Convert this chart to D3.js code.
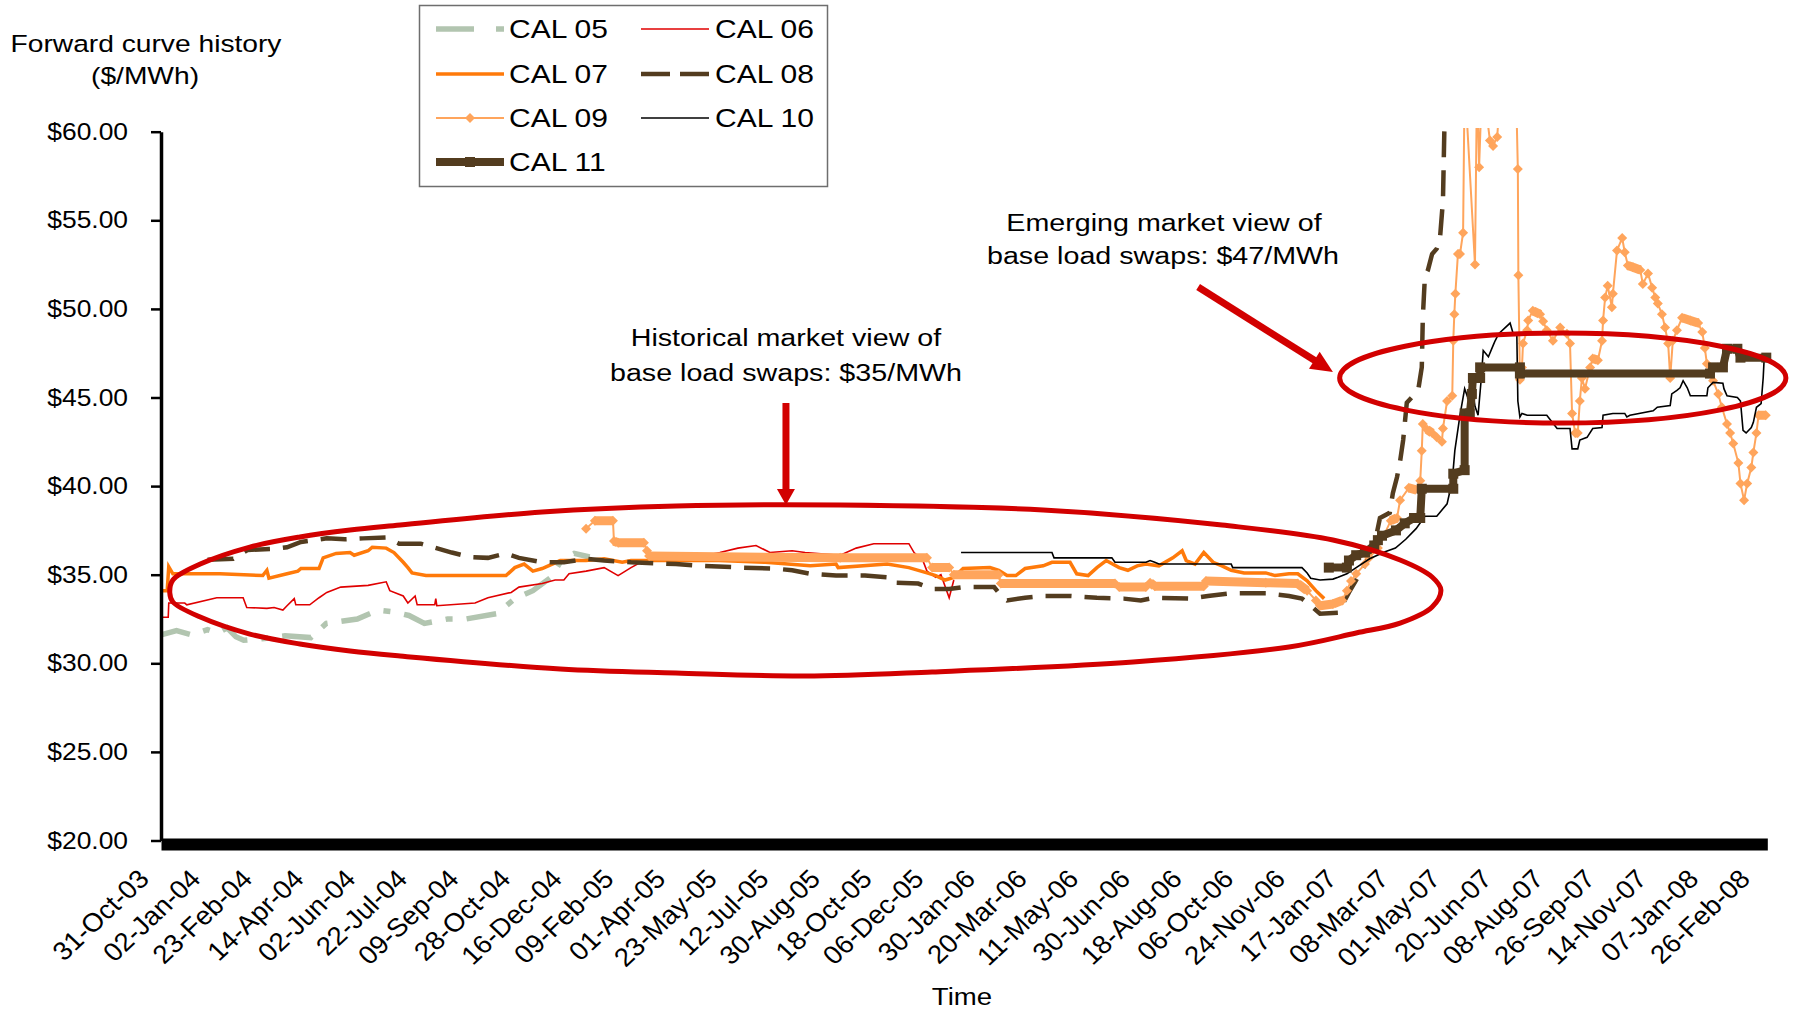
<!DOCTYPE html>
<html>
<head>
<meta charset="utf-8">
<script src="https://cdn.jsdelivr.net/npm/d3@7"></script>
<style>
  html, body { margin: 0; padding: 0; background: #fff; }
  svg { display: block; font-family: "Liberation Sans", Arial, sans-serif; }
</style>
</head>
<body>
<svg id="chart" width="1793" height="1011"></svg>
<script>
// Category labels along the time axis (one every label interval)
const dateLabels = [
  "31-Oct-03","02-Jan-04","23-Feb-04","14-Apr-04","02-Jun-04","22-Jul-04","09-Sep-04","28-Oct-04",
  "16-Dec-04","09-Feb-05","01-Apr-05","23-May-05","12-Jul-05","30-Aug-05","18-Oct-05","06-Dec-05",
  "30-Jan-06","20-Mar-06","11-May-06","30-Jun-06","18-Aug-06","06-Oct-06","24-Nov-06","17-Jan-07",
  "08-Mar-07","01-May-07","20-Jun-07","08-Aug-07","26-Sep-07","14-Nov-07","07-Jan-08","26-Feb-08"
];
const yTicks = [20, 25, 30, 35, 40, 45, 50, 55, 60];

// Forward prices: [axis position (label intervals from 31-Oct-03), $/MWh]
const cal05 = [[0,31.6],[0.3,31.85],[0.6,31.6],[0.9,31.9],[1.1,31.7],[1.28,32.0],[1.45,31.5],[1.6,31.3],[2.0,31.4],[2.4,31.55],[2.9,31.45],[3.2,32.25],[3.8,32.5],[4.2,33.0],[4.5,32.9],[4.8,32.7],[5.1,32.25],[5.55,32.5],[5.9,32.5],[6.5,32.8],[6.85,33.65],[7.2,34.1],[7.55,34.85],[7.75,35.8],[8.0,36.2],[8.3,36.0]];
const cal06 = [[0,32.6],[0.14,32.6],[0.15,33.4],[0.46,33.4],[0.5,33.3],[1.08,33.7],[1.59,33.7],[1.66,33.15],[2.05,33.1],[2.19,33.15],[2.36,33.0],[2.44,33.25],[2.58,33.65],[2.61,33.3],[2.88,33.3],[3.06,33.7],[3.21,34.0],[3.48,34.3],[4.01,34.4],[4.36,34.6],[4.43,34.1],[4.69,33.8],[4.78,33.4],[4.92,33.8],[4.96,33.3],[5.3,33.3],[5.32,33.65],[5.34,33.25],[6.08,33.4],[6.33,33.7],[6.78,34.0],[6.93,34.3],[7.38,34.5],[7.63,34.7],[7.8,34.7],[7.9,35.05],[8.23,35.2],[8.58,35.4],[8.85,34.95],[9.1,35.4],[9.35,35.8],[9.97,35.8],[10.32,35.95],[10.82,36.25],[11.17,36.5],[11.52,36.65],[11.79,36.25],[12.22,36.35],[12.47,36.25],[13.15,36.1],[13.46,36.5],[13.8,36.75],[14.48,36.75],[14.58,36.25],[14.75,35.8],[14.83,35.2],[15.0,34.85],[15.1,35.0],[15.26,33.7],[15.35,34.7]];
const cal07 = [[0,34.1],[0.12,34.1],[0.15,35.45],[0.23,35.05],[1.14,35.05],[1.97,34.95],[2.05,35.25],[2.09,34.8],[2.44,35.05],[2.65,35.2],[2.71,35.35],[3.06,35.35],[3.14,35.95],[3.39,36.2],[3.66,36.25],[3.74,36.1],[4.01,36.35],[4.09,36.55],[4.36,36.5],[4.51,36.25],[4.69,35.7],[4.78,35.4],[4.86,35.1],[5.13,34.95],[6.68,34.95],[6.85,35.4],[7.03,35.6],[7.2,35.2],[7.38,35.35],[7.73,35.8],[8.23,35.8],[8.58,35.9],[8.93,35.7],[9.1,35.8],[10.8,35.8],[11.7,35.7],[12.57,35.5],[13.07,35.6],[13.11,35.4],[14.06,35.6],[14.48,35.4],[14.83,35.1],[15.0,34.95],[15.18,34.7],[15.35,34.85],[15.53,35.35],[16.05,35.4],[16.22,35.25],[16.38,34.95],[16.55,34.95],[16.73,35.35],[17.08,35.5],[17.25,35.7],[17.6,35.7],[17.73,35.05],[17.95,34.95],[18.12,35.4],[18.3,35.8],[18.55,35.4],[18.72,35.25],[18.9,35.5],[19.07,35.6],[19.32,35.5],[19.59,35.95],[19.77,36.35],[19.85,35.8],[20.02,35.6],[20.19,36.25],[20.37,35.7],[20.54,35.5],[20.72,35.25],[20.97,35.1],[21.39,35.1],[21.57,34.95],[21.84,35.05],[22.01,35.05],[22.19,34.65],[22.36,34.1],[22.52,33.65]];
const cal08 = [[0.9,35.85],[1.4,35.9],[1.68,36.4],[2.17,36.45],[2.44,36.55],[2.71,36.85],[3.21,37.05],[3.56,37.0],[3.91,37.05],[4.36,37.1],[4.61,36.75],[5.03,36.75],[5.63,36.25],[5.98,36.0],[6.33,35.95],[6.68,36.2],[6.93,35.95],[7.38,35.7],[7.8,35.7],[8.23,35.9],[8.58,35.8],[9.1,35.7],[9.53,35.65],[9.97,35.6],[10.47,35.5],[11.27,35.4],[11.87,35.35],[12.22,35.25],[12.57,35.05],[13.07,34.95],[13.63,34.95],[14.06,34.85],[14.13,34.55],[14.66,34.5],[14.93,34.2],[15.26,34.2],[15.53,34.3],[16.13,34.3],[16.3,33.7],[16.38,33.55],[16.73,33.7],[17.08,33.8],[17.6,33.8],[18.12,33.7],[18.64,33.65],[18.97,33.55],[19.24,33.7],[19.92,33.65],[20.27,33.8],[20.72,33.95],[21.39,33.95],[21.84,33.8],[22.09,33.65],[22.26,33.25],[22.44,32.8],[22.79,32.85],[23.0,34.0],[23.3,35.5],[23.5,36.8],[23.6,38.2],[23.79,38.5],[23.85,39.6],[23.93,40.5],[23.99,41.4],[24.05,42.6],[24.12,44.7],[24.34,45.4],[24.41,46.7],[24.43,49.5],[24.47,51.8],[24.53,52.2],[24.61,53.1],[24.7,53.4],[24.76,53.9],[24.82,56.1],[24.86,62.0],[25.5,68.0],[29.7,68.0]];
const cal09 = [[8.23,37.6],[8.4,38.05],[8.75,38.05],[8.77,36.9],[8.85,36.8],[9.35,36.8],[9.41,36.35],[9.45,36.05],[13.15,35.95],[14.83,35.95],[14.93,35.4],[15.26,35.4],[15.35,35.0],[16.22,35.0],[16.26,34.5],[18.47,34.5],[18.55,34.3],[19.07,34.3],[19.15,34.55],[19.24,34.35],[20.19,34.35],[20.23,34.65],[21.39,34.55],[22.01,34.5],[22.19,34.1],[22.36,33.55],[22.44,33.25],[22.69,33.35],[22.87,33.55],[22.96,34.1],[23.04,34.65],[23.14,35.05],[23.31,35.6],[23.39,35.95],[23.56,36.5],[23.81,38.05],[23.93,38.2],[23.99,39.2],[24.16,39.9],[24.28,39.8],[24.38,40.3],[24.41,42.0],[24.43,43.5],[24.51,43.2],[24.61,43.0],[24.7,42.75],[24.8,42.5],[24.82,43.25],[24.9,44.8],[25.0,45.1],[25.02,48.2],[25.04,49.7],[25.06,50.85],[25.11,53.1],[25.15,53.1],[25.21,54.3],[25.24,63.0],[25.44,52.5],[25.48,63.0],[25.52,58.0],[25.58,63.0],[25.73,59.5],[25.79,59.2],[25.87,59.7],[25.95,63.0],[26.23,63.0],[26.27,57.9],[26.28,51.9],[26.31,46.0],[26.35,46.7],[26.37,48.05],[26.45,48.8],[26.47,49.35],[26.56,49.9],[26.7,49.7],[26.76,49.3],[26.83,48.8],[26.95,48.2],[27.09,48.95],[27.22,48.6],[27.28,48.05],[27.32,44.1],[27.38,43.0],[27.43,43.0],[27.47,44.8],[27.51,46.1],[27.57,45.5],[27.67,46.7],[27.72,47.2],[27.82,47.1],[27.9,48.2],[27.92,49.35],[27.96,50.65],[28.01,51.3],[28.09,50.1],[28.11,50.85],[28.19,53.3],[28.29,54.0],[28.34,53.2],[28.4,52.45],[28.5,52.35],[28.64,52.2],[28.69,51.4],[28.79,52.0],[28.87,51.2],[28.93,50.65],[28.98,50.3],[29.06,49.7],[29.12,48.95],[29.18,48.05],[29.22,46.1],[29.27,48.2],[29.35,48.8],[29.45,49.5],[29.61,49.35],[29.76,49.2],[29.84,48.7],[29.89,47.8],[29.93,46.9],[30.05,45.95],[30.15,45.2],[30.22,44.45],[30.32,43.5],[30.38,43.0],[30.44,42.4],[30.54,41.3],[30.58,40.15],[30.65,39.2],[30.71,40.15],[30.79,41.05],[30.83,41.9],[30.89,43.0],[30.93,44.0],[31.07,44.0]];
const cal10 = [[15.49,36.25],[17.25,36.25],[17.29,35.95],[18.41,35.95],[18.47,35.7],[19.07,35.7],[19.15,35.8],[19.24,35.7],[19.32,35.6],[20.72,35.6],[20.75,35.4],[22.09,35.4],[22.19,35.1],[22.26,34.8],[22.44,34.7],[22.69,34.75],[22.79,34.85],[22.96,35.05],[23.14,35.4],[23.4,35.9],[23.7,36.3],[23.9,36.5],[24.1,37.0],[24.3,37.6],[24.47,38.3],[24.7,38.3],[24.9,39.0],[25.0,40.3],[25.05,42.0],[25.15,44.0],[25.24,45.5],[25.3,45.0],[25.34,44.5],[25.38,45.8],[25.44,44.5],[25.5,44.0],[25.56,46.0],[25.6,47.65],[25.7,47.3],[25.8,48.0],[25.83,48.2],[25.9,48.6],[26.12,49.2],[26.18,48.6],[26.25,48.6],[26.27,44.8],[26.31,43.9],[26.35,44.1],[26.45,44.0],[26.83,44.0],[27.03,43.25],[27.28,43.25],[27.32,42.1],[27.43,42.1],[27.47,42.6],[27.61,42.75],[27.72,43.25],[27.9,43.3],[27.92,44.0],[28.11,44.1],[28.34,44.1],[28.38,43.9],[28.44,44.0],[28.89,44.25],[28.97,44.45],[29.22,44.55],[29.25,45.2],[29.35,45.4],[29.41,45.55],[29.47,45.95],[29.55,45.55],[29.61,45.1],[29.93,45.1],[29.95,45.55],[30.05,45.85],[30.24,45.8],[30.26,45.5],[30.32,45.1],[30.52,45.0],[30.58,44.8],[30.63,43.15],[30.69,43.0],[30.79,43.3],[30.83,43.6],[30.89,44.45],[30.98,44.65],[31.02,46.1],[31.04,47.25]];
const cal11 = [[22.61,35.4],[22.96,35.4],[23.0,35.8],[23.14,36.1],[23.31,36.25],[23.49,36.65],[23.56,36.95],[23.64,37.2],[23.91,37.5],[24.08,37.9],[24.26,38.2],[24.38,38.2],[24.41,39.85],[25.02,39.85],[25.02,40.7],[25.24,40.9],[25.24,44.1],[25.34,44.1],[25.38,45.2],[25.4,46.1],[25.54,46.1],[25.54,46.7],[26.31,46.7],[26.31,46.35],[29.99,46.35],[30.05,46.7],[30.24,46.7],[30.32,47.75],[30.52,47.75],[30.58,47.25],[31.08,47.25]];

// Hand-drawn highlight around the 2004-06 prices: [axis position, $/MWh]
const historicalRing = [[0.17,33.97],[0.23,34.70],[0.76,35.60],[1.72,36.56],[2.69,37.13],[3.66,37.52],[4.63,37.80],[7.38,38.54],[9.97,38.88],[13.15,38.93],[17.08,38.65],[20.54,37.80],[22.69,36.96],[23.99,35.83],[24.61,34.87],[24.78,34.14],[24.61,33.18],[23.99,32.27],[23.14,31.71],[21.84,30.92],[18.82,30.07],[14.93,29.51],[12.47,29.28],[9.97,29.45],[7.73,29.68],[4.63,30.41],[3.66,30.69],[2.69,31.09],[1.72,31.65],[0.76,32.61],[0.23,33.46]];
// Ellipse around the 2007-08 prices: centre and radii
const emergingRing = { cx: 27.14, cy: 46.1, rx: 4.32, ry: 2.54 };

const series = [
  { name: "CAL 05", data: cal05, color: "#b2c5b0", width: 5.5, dash: "30,14,7,14" },
  { name: "CAL 06", data: cal06, color: "#e00000", width: 1.6, dash: null },
  { name: "CAL 07", data: cal07, color: "#ff7a0a", width: 3.5, dash: null },
  { name: "CAL 08", data: cal08, color: "#533c1f", width: 4.5, dash: "26,13" },
  { name: "CAL 09", data: cal09, color: "#ffa55c", width: 2, dash: null, marker: "diamond" },
  { name: "CAL 10", data: cal10, color: "#000000", width: 1.6, dash: null },
  { name: "CAL 11", data: cal11, color: "#533c1f", width: 8, dash: null, marker: "square" }
];

const FONT = '"Liberation Sans", Arial, sans-serif';
const RED = "#d20000";

const svg = d3.select("#chart");
const x = d3.scaleLinear().domain([0, 31.1]).range([161, 161 + 31.1 * 51.65]);
const y = d3.scaleLinear().domain([20, 60]).range([840.5, 131.7]);

svg.append("defs").append("clipPath").attr("id", "plotClip")
  .append("rect").attr("x", 158).attr("y", 128).attr("width", 1630).attr("height", 730);

const line = d3.line().x(d => x(d[0])).y(d => y(d[1]));
const plot = svg.append("g").attr("clip-path", "url(#plotClip)");

series.forEach(s => {
  const g = plot.append("g");
  if (s.marker === "diamond") {
    // dense daily markers merge into a band along the flatter stretches
    const pts = s.data.map(d => [x(d[0]), y(d[1])]);
    let band = "";
    for (let i = 1; i < pts.length; i++) {
      const dx = pts[i][0] - pts[i - 1][0], dy = pts[i][1] - pts[i - 1][1];
      if (Math.abs(dy) <= 0.8 * Math.abs(dx)) band += `M${pts[i - 1][0]},${pts[i - 1][1]}L${pts[i][0]},${pts[i][1]}`;
    }
    g.append("path").attr("d", band).attr("fill", "none").attr("stroke", s.color)
      .attr("stroke-width", 9).attr("stroke-linejoin", "round");
  }
  g.append("path").datum(s.data).attr("d", line).attr("fill", "none")
    .attr("stroke", s.color).attr("stroke-width", s.width)
    .attr("stroke-dasharray", s.dash).attr("stroke-linejoin", "miter");
  if (s.marker === "diamond") {
    g.selectAll("path.mk").data(s.data.filter(d => d[1] < 60.5)).join("path").attr("class", "mk")
      .attr("d", "M0,-5L5,0L0,5L-5,0Z").attr("fill", s.color)
      .attr("transform", d => `translate(${x(d[0])},${y(d[1])})`);
  }
  if (s.marker === "square") {
    g.selectAll("rect.mk").data(s.data).join("rect").attr("class", "mk")
      .attr("x", d => x(d[0]) - 5).attr("y", d => y(d[1]) - 5)
      .attr("width", 10).attr("height", 10).attr("fill", s.color);
  }
});

// Y axis
const yAxis = d3.axisLeft(y).tickValues(yTicks).tickFormat(d => "$" + d.toFixed(2))
  .tickSize(10).tickSizeOuter(0).tickPadding(23);
const gy = svg.append("g").attr("transform", `translate(${x(0)},0)`).call(yAxis);
gy.select(".domain").attr("stroke", "#000").attr("stroke-width", 3.5);
gy.selectAll(".tick line").attr("stroke", "#000").attr("stroke-width", 2.5);
gy.selectAll(".tick text").attr("font-size", 24).attr("font-family", FONT).attr("fill", "#000")
  .attr("x", -33 / 1.1).attr("transform", "scale(1.1,1)");

// X axis (heavy baseline, rotated date labels)
const xAxis = d3.axisBottom(x).tickValues(d3.range(dateLabels.length))
  .tickFormat(i => dateLabels[i]).tickSize(0).tickSizeOuter(0);
const gx = svg.append("g").attr("transform", `translate(0,${y(20)})`).call(xAxis);
gx.select(".domain").attr("stroke", "#000").attr("stroke-width", 12).attr("transform", "translate(0,3.5)");
gx.selectAll(".tick text").attr("y", 0).attr("dy", 0).attr("text-anchor", "end")
  .attr("font-size", 26).attr("font-family", FONT).attr("fill", "#000")
  .attr("transform", "translate(-11,40) scale(1.06,1) rotate(-45)");

// Axis titles
function stretchedText(txt, px, py, size, sx, anchor) {
  return svg.append("text").text(txt).attr("font-size", size).attr("font-family", FONT)
    .attr("fill", "#000").attr("text-anchor", anchor || "middle")
    .attr("transform", `translate(${px},${py}) scale(${sx},1)`);
}
stretchedText("Forward curve history", 146, 52, 23.5, 1.2);
stretchedText("($/MWh)", 145, 84, 23.5, 1.2);
stretchedText("Time", 962, 1005, 24, 1.15);

// Highlights
svg.append("path").datum(historicalRing)
  .attr("d", d3.line().x(d => x(d[0])).y(d => y(d[1])).curve(d3.curveCatmullRomClosed.alpha(0.5)))
  .attr("fill", "none").attr("stroke", RED).attr("stroke-width", 5);
svg.append("ellipse")
  .attr("cx", x(emergingRing.cx)).attr("cy", y(emergingRing.cy))
  .attr("rx", x(emergingRing.cx + emergingRing.rx) - x(emergingRing.cx))
  .attr("ry", y(emergingRing.cy - emergingRing.ry) - y(emergingRing.cy))
  .attr("fill", "none").attr("stroke", RED).attr("stroke-width", 5);

function arrow(from, to, headLen, headHalf, shaft) {
  const x0 = x(from[0]), y0 = y(from[1]), x1 = x(to[0]), y1 = y(to[1]);
  const len = Math.hypot(x1 - x0, y1 - y0), ux = (x1 - x0) / len, uy = (y1 - y0) / len;
  const bx = x1 - ux * headLen, by = y1 - uy * headLen;
  svg.append("line").attr("x1", x0).attr("y1", y0).attr("x2", bx + ux * 2).attr("y2", by + uy * 2)
    .attr("stroke", RED).attr("stroke-width", shaft);
  svg.append("path")
    .attr("d", `M${x1},${y1}L${bx - uy * headHalf},${by + ux * headHalf}L${bx + uy * headHalf},${by - ux * headHalf}Z`)
    .attr("fill", RED);
}
arrow([12.1, 44.69], [12.1, 38.93], 16, 9, 7);
arrow([20.08, 51.24], [22.69, 46.44], 22, 10, 7);

stretchedText("Historical market view of", x(12.1), 346, 24.5, 1.17);
stretchedText("base load swaps: $35/MWh", x(12.1), 381, 24.5, 1.17);
stretchedText("Emerging market view of", 1164, 231, 24.5, 1.17);
stretchedText("base load swaps: $47/MWh", 1163, 264, 24.5, 1.17);

// Legend
const legend = svg.append("g");
legend.append("rect").attr("x", 419.5).attr("y", 5.5).attr("width", 408).attr("height", 181)
  .attr("fill", "#fff").attr("stroke", "#6e6e6e").attr("stroke-width", 1.5);
const legendCols = [{ x1: 436, x2: 504, tx: 509 }, { x1: 641, x2: 709, tx: 715 }];
const legendRows = [29, 74, 118, 162];
series.forEach((s, i) => {
  const c = legendCols[i % 2], cy = legendRows[Math.floor(i / 2)];
  const g = legend.append("g");
  g.append("line").attr("x1", c.x1).attr("x2", c.x2).attr("y1", cy).attr("y2", cy)
    .attr("stroke", s.color).attr("stroke-width", s.width)
    .attr("stroke-dasharray", s.name === "CAL 05" ? "38,22,8,22" : (s.dash ? "29,10" : null));
  const mx = (c.x1 + c.x2) / 2;
  if (s.marker === "diamond") g.append("path").attr("d", "M0,-5L5,0L0,5L-5,0Z").attr("fill", s.color)
    .attr("transform", `translate(${mx},${cy})`);
  if (s.marker === "square") g.append("rect").attr("x", mx - 5).attr("y", cy - 5)
    .attr("width", 10).attr("height", 10).attr("fill", s.color);
  g.append("text").text(s.name).attr("font-size", 25).attr("font-family", FONT).attr("fill", "#000")
    .attr("transform", `translate(${c.tx},${cy + 9}) scale(1.2,1)`);
});
</script>
</body>
</html>
